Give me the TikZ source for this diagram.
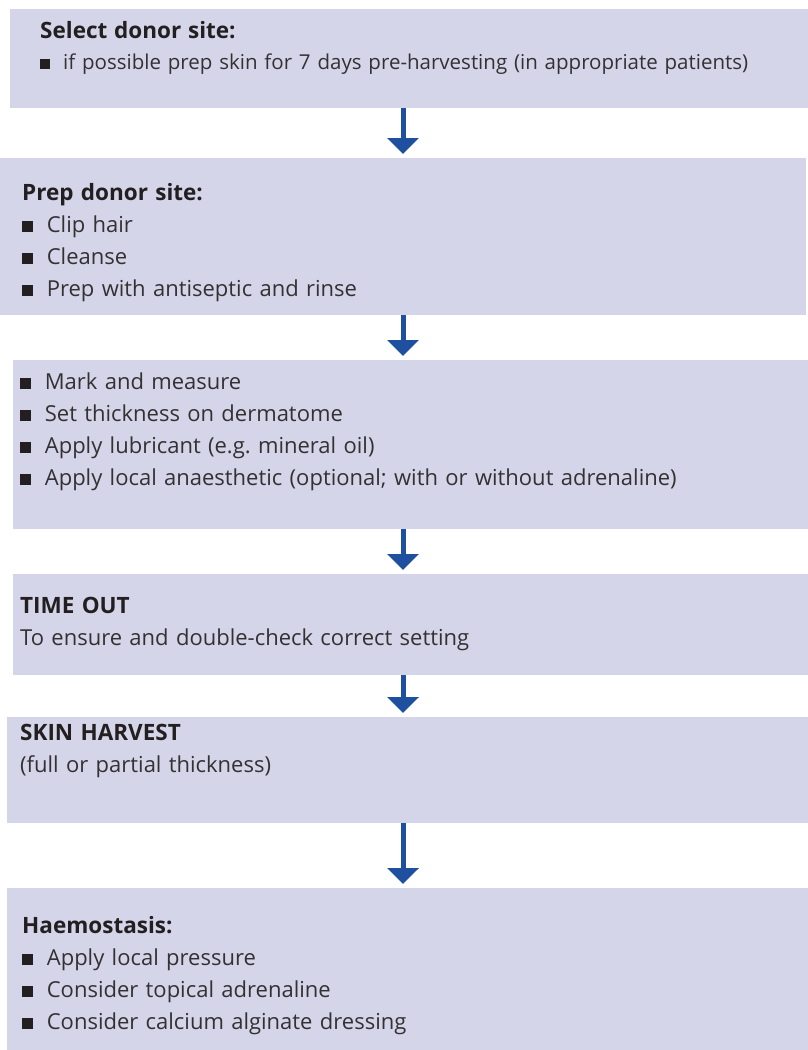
\documentclass[tikz,border=0pt]{standalone}
\usepackage{fontspec}
\setmainfont{Open Sans}[WordSpace=1.3]
\frenchspacing
\usetikzlibrary{arrows.meta,positioning,calc}
\definecolor{donfill}{HTML}{D5D5EA}
\definecolor{donblue}{HTML}{1F4F9F}
\definecolor{dontext}{HTML}{333132}
\definecolor{donhead}{HTML}{231F20}
\newcommand{\sqb}{{\color{donhead}\rule{0.5em}{0.5em}}\hspace{0.62em}}
\newcommand{\hd}[1]{{\fontsize{22.5}{32}\selectfont\bfseries\color{donhead}#1}}
\tikzset{
  x=1pt, y=-1pt,
  panel/.style={fill=donfill,draw=none,inner sep=0pt,anchor=north west},
  txt/.style={anchor=base west,inner sep=0pt,text width=780pt,align=left,
              text=dontext,font=\fontsize{22}{32}\selectfont},
  flow/.style={-{Triangle[length=16pt,width=31pt]},line width=5pt,draw=donblue,
               shorten >=4pt},
}
\begin{document}
\begin{tikzpicture}
  \useasboundingbox (0,0) rectangle (808,1050);
  \coordinate (ax) at (403,0);

  % panels
  \node[panel,minimum width=798pt,minimum height=99pt]  (b1) at (10,9)   {};
  \node[panel,minimum width=806pt,minimum height=157pt] (b2) at (0,158)  {};
  \node[panel,minimum width=795pt,minimum height=169pt] (b3) at (13,360) {};
  \node[panel,minimum width=795pt,minimum height=101pt] (b4) at (13,574) {};
  \node[panel,minimum width=801pt,minimum height=106pt] (b5) at (7,717)  {};
  \node[panel,minimum width=801pt,minimum height=162pt] (b6) at (7,888)  {};

  % texts
  \node[txt,font=\fontsize{20.5}{31}\selectfont] (t1) at (40,38)
    {\hd{Select donor site:}\\
     \sqb if possible prep skin for 7 days pre-harvesting (in appropriate patients)};
  \node[txt] (t2) at (22,200)
    {\hd{Prep donor site:}\\ \sqb Clip hair\\ \sqb Cleanse\\ \sqb Prep with antiseptic and rinse};
  \node[txt] (t3) at (20,389)
    {\sqb Mark and measure\\ \sqb Set thickness on dermatome\\
     \sqb Apply lubricant (e.g. mineral oil)\\
     \sqb Apply local anaesthetic (optional; with or without adrenaline)};
  \node[txt] (t4) at (20,613)
    {\hd{TIME OUT}\\ To ensure and double-check correct setting};
  \node[txt] (t5) at (20,740)
    {\hd{SKIN HARVEST}\\ (full or partial thickness)};
  \node[txt] (t6) at (22,933)
    {\hd{Haemostasis:}\\ \sqb Apply local pressure\\ \sqb Consider topical adrenaline\\
     \sqb Consider calcium alginate dressing};

  % arrows
  \draw[flow] (b1.south -| ax) -- (b2.north -| ax);
  \draw[flow] (b2.south -| ax) -- (b3.north -| ax);
  \draw[flow] (b3.south -| ax) -- (b4.north -| ax);
  \draw[flow] (b4.south -| ax) -- (b5.north -| ax);
  \draw[flow] (b5.south -| ax) -- (b6.north -| ax);
\end{tikzpicture}
\end{document}
